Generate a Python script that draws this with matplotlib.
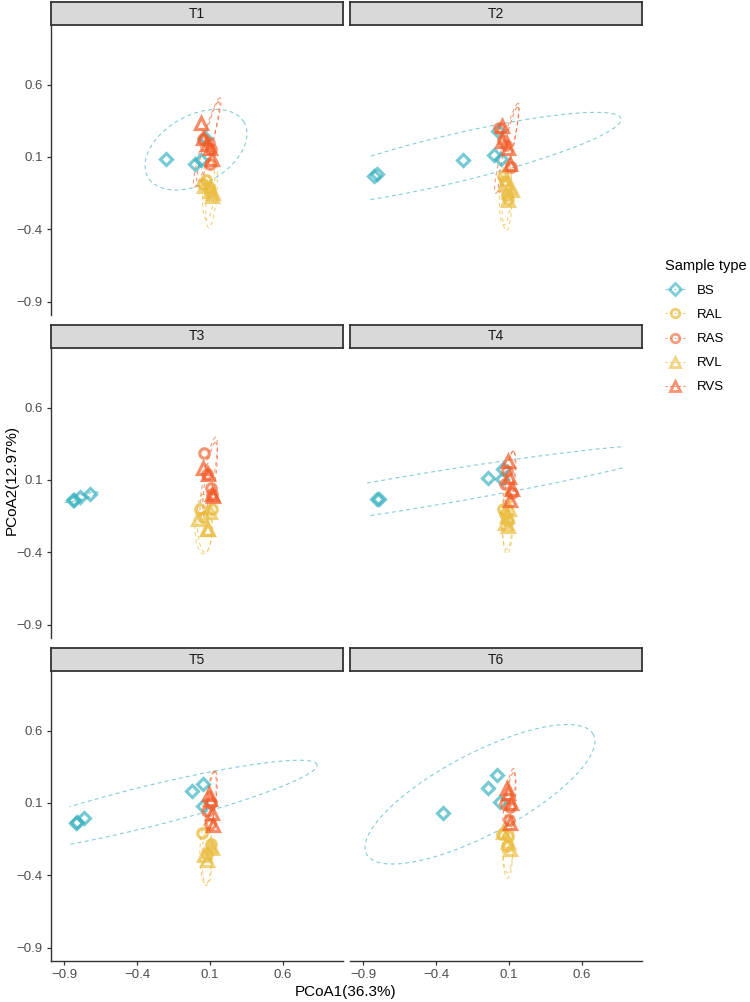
import numpy as np
import matplotlib
matplotlib.use("Agg")
import matplotlib.pyplot as plt
from matplotlib.lines import Line2D

plt.rcParams['font.family'] = ['Liberation Sans', 'DejaVu Sans']

panels = ["T1", "T2", "T3", "T4", "T5", "T6"]
groups = ["BS", "RAL", "RAS", "RVL", "RVS"]

# point coordinates per group, one list per panel (T1..T6)
BS_x = [[-0.20, -0.003, 0.038, 0.066],
        [-0.829, -0.806, -0.213, -0.007, 0.045, 0.027],
        [-0.843, -0.835, -0.79, -0.722],
        [-0.806, -0.795, -0.046, 0.061, 0.054],
        [-0.82, -0.815, -0.768, -0.021, 0.05, 0.054],
        [-0.354, -0.046, 0.016, 0.038]]
BS_y = [[0.086, 0.052, 0.08, 0.23],
        [-0.03, -0.019, 0.077, 0.114, 0.084, 0.278],
        [-0.039, -0.035, -0.021, 0.002],
        [-0.032, -0.028, 0.112, 0.173, 0.105],
        [-0.035, -0.033, -0.007, 0.182, 0.232, 0.079],
        [0.034, 0.205, 0.29, 0.107]]

RAL_x = [[0.054, 0.10, 0.07, 0.095],
         [0.073, 0.095, 0.085, 0.06],
         [0.032, 0.054, 0.111],
         [0.073, 0.095, 0.06],
         [0.043, 0.105, 0.08],
         [0.05, 0.095, 0.084]]
RAL_y = [[-0.087, -0.133, -0.06, -0.11],
         [-0.064, -0.19, -0.16, -0.03],
         [-0.10, -0.155, -0.10],
         [-0.135, -0.18, -0.10],
         [-0.11, -0.183, -0.25],
         [-0.115, -0.13, -0.195]]

RAS_x = [[0.089, 0.105, 0.10, 0.054],
         [0.03, 0.08, 0.11, 0.06],
         [0.059, 0.077, 0.107, 0.111],
         [0.084, 0.073, 0.118],
         [0.077, 0.10, 0.105],
         [0.073, 0.107, 0.10]]
RAS_y = [[0.198, 0.152, 0.052, 0.221],
         [0.30, 0.18, 0.03, 0.22],
         [0.283, 0.139, 0.047, 0.002],
         [0.16, 0.07, 0.013],
         [0.045, -0.046, 0.10],
         [0.091, 0.07, -0.02]]

RVL_x = [[0.111, 0.10, 0.06, 0.12],
         [0.118, 0.09, 0.07, 0.10],
         [0.02, 0.077, 0.085, 0.10],
         [0.095, 0.085, 0.10, 0.07],
         [0.077, 0.10, 0.115, 0.06],
         [0.107, 0.06, 0.09]]
RVL_y = [[-0.167, -0.133, -0.10, -0.15],
         [-0.13, -0.20, -0.08, -0.11],
         [-0.169, -0.238, -0.24, -0.12],
         [-0.215, -0.15, -0.10, -0.20],
         [-0.297, -0.20, -0.21, -0.26],
         [-0.215, -0.10, -0.17]]

RVS_x = [[0.038, 0.054, 0.10, 0.111, 0.08],
         [0.05, 0.05, 0.095, 0.107],
         [0.054, 0.085, 0.115, 0.123],
         [0.095, 0.10, 0.107, 0.118],
         [0.089, 0.10, 0.115, 0.12],
         [0.084, 0.09, 0.107, 0.11]]
RVS_y = [[0.335, 0.228, 0.164, 0.084, 0.19],
         [0.312, 0.21, 0.164, 0.05],
         [0.184, 0.14, 0.0, -0.01],
         [0.23, 0.12, -0.04, 0.04],
         [0.16, 0.13, 0.03, -0.05],
         [0.205, 0.17, -0.035, 0.10]]

# confidence ellipses per group and panel: (centre x, centre y, semi-major, semi-minor, angle deg)
BS_ell = [(0.003, 0.15, 0.38, 0.235, 30), (-0.3, 0.085, 1.2, 0.165, 13.5),
          (-0.79, -0.02, 0.13, 0.015, 15), (-0.5, 0.027, 1.8, 0.115, 9.5),
          (-0.35, 0.07, 1.22, 0.14, 14), (-0.1, 0.16, 0.88, 0.28, 28)]
RAL_ell = [(0.09, -0.13, 0.20, 0.04, 86), (0.075, -0.15, 0.22, 0.04, 87),
           (0.06, -0.20, 0.20, 0.05, 92), (0.085, -0.18, 0.20, 0.035, 90),
           (0.07, -0.25, 0.21, 0.04, 90), (0.09, -0.20, 0.22, 0.035, 90)]
RAS_ell = [(0.08, 0.20, 0.32, 0.035, 74), (0.085, 0.16, 0.32, 0.035, 76),
           (0.09, 0.12, 0.28, 0.035, 80), (0.10, 0.10, 0.20, 0.03, 82),
           (0.105, 0.11, 0.21, 0.03, 84), (0.10, 0.12, 0.22, 0.03, 82)]
RVL_ell = [(0.11, -0.16, 0.23, 0.035, 85), (0.085, -0.17, 0.24, 0.035, 89),
           (0.055, -0.22, 0.19, 0.06, 90), (0.09, -0.20, 0.21, 0.035, 89),
           (0.08, -0.27, 0.20, 0.035, 89), (0.095, -0.18, 0.20, 0.035, 88)]
RVS_ell = [(0.085, 0.19, 0.30, 0.03, 76), (0.095, 0.15, 0.30, 0.03, 78),
           (0.10, 0.10, 0.26, 0.035, 82), (0.11, 0.11, 0.19, 0.03, 84),
           (0.11, 0.12, 0.20, 0.03, 83), (0.11, 0.11, 0.20, 0.03, 84)]

ticks = [-0.9, -0.4, 0.1, 0.6]
tick_labels = ["\u22120.9", "\u22120.4", "0.1", "0.6"]
lim_lo, lim_hi = -0.9, 0.92

data = {"BS": (BS_x, BS_y, BS_ell), "RAL": (RAL_x, RAL_y, RAL_ell),
        "RAS": (RAS_x, RAS_y, RAS_ell), "RVL": (RVL_x, RVL_y, RVL_ell),
        "RVS": (RVS_x, RVS_y, RVS_ell)}
colors = {"BS": "#3DB3C1", "RAL": "#E8B62E", "RAS": "#F06A3A",
          "RVL": "#EBBE45", "RVS": "#F15A26"}
markers = {"BS": "D", "RAL": "o", "RAS": "o", "RVL": "^", "RVS": "^"}
msize = {"BS": 6.3, "RAL": 6.8, "RAS": 6.8, "RVL": 8, "RVS": 8}

W, H = 750, 1002
fig = plt.figure(figsize=(W / 100, H / 100), dpi=100)

col_x = [(51, 343), (350, 642)]
row_y = [(25, 315), (348, 638), (671, 961)]
strip_h = 23
pad = 0.091
xl = (lim_lo - pad, lim_hi + pad)


def ellipse_pts(cx, cy, a, b, ang, n=121):
    t = np.linspace(0, 2 * np.pi, n)
    th = np.deg2rad(ang)
    x = cx + a * np.cos(t) * np.cos(th) - b * np.sin(t) * np.sin(th)
    y = cy + a * np.cos(t) * np.sin(th) + b * np.sin(t) * np.cos(th)
    bad = (x < lim_lo) | (x > lim_hi) | (y < lim_lo) | (y > lim_hi)
    x = np.where(bad, np.nan, x)
    y = np.where(bad, np.nan, y)
    return x, y


for i, p in enumerate(panels):
    r, c = divmod(i, 2)
    x0, x1 = col_x[c]
    y0, y1 = row_y[r]
    ax = fig.add_axes([x0 / W, 1 - y1 / H, (x1 - x0) / W, (y1 - y0) / H])
    ax.set_xlim(*xl)
    ax.set_ylim(*xl)
    for g in groups:
        gx, gy, ge = data[g]
        ex, ey = ellipse_pts(*ge[i])
        ax.plot(ex, ey, linestyle=(0, (3.5, 3)), lw=0.8, color=colors[g], alpha=0.65)
    for g in groups:
        gx, gy, ge = data[g]
        ax.plot(gx[i], gy[i], linestyle="none", marker=markers[g], ms=msize[g],
                mfc="none", mec=colors[g], mew=2.3, alpha=0.7)
    for s in ["top", "right"]:
        ax.spines[s].set_visible(False)
    ax.spines["left"].set_visible(c == 0)
    ax.spines["bottom"].set_visible(r == 2)
    for s in ["left", "bottom"]:
        ax.spines[s].set_linewidth(1.0)
        ax.spines[s].set_color("#333333")
    ax.set_xticks(ticks)
    ax.set_yticks(ticks)
    ax.set_xticklabels(tick_labels if r == 2 else [])
    ax.set_yticklabels(tick_labels if c == 0 else [])
    ax.tick_params(axis="x", length=3 if r == 2 else 0, width=0.9, color="#333333",
                   labelsize=9.5, labelcolor="#4D4D4D", pad=3)
    ax.tick_params(axis="y", length=3 if c == 0 else 0, width=0.9, color="#333333",
                   labelsize=9.5, labelcolor="#4D4D4D", pad=3)
    ax.patch.set_alpha(0)
    # strip
    sax = fig.add_axes([x0 / W, 1 - y0 / H, (x1 - x0) / W, strip_h / H])
    sax.set_xticks([])
    sax.set_yticks([])
    sax.set_facecolor("#D9D9D9")
    for s in sax.spines.values():
        s.set_linewidth(1.3)
        s.set_color("#333333")
    sax.text(0.5, 0.5, p, ha="center", va="center", fontsize=10, color="#1A1A1A",
             transform=sax.transAxes)

fig.text(346 / W, 1 - 992 / H, "PCoA1(36.3%)", ha="center", va="center", fontsize=11)
fig.text(12 / W, 1 - 480 / H, "PCoA2(12.97%)", ha="center", va="center", fontsize=11,
         rotation=90)

handles = [Line2D([0], [0], color=colors[g], linestyle=(0, (2, 2)), lw=0.8, marker=markers[g],
                  ms=msize[g] * 0.9, mfc="none", mec=colors[g], mew=2.0, alpha=0.65)
           for g in groups]
leg = fig.legend(handles, groups, title="Sample type", loc="upper left",
                 bbox_to_anchor=(653 / W, 1 - 247 / H), frameon=False, fontsize=9.5,
                 title_fontsize=10.5, handlelength=1.6, labelspacing=0.9, handletextpad=0.8)
leg._legend_box.align = "left"

fig.savefig("out.png", dpi=100)
